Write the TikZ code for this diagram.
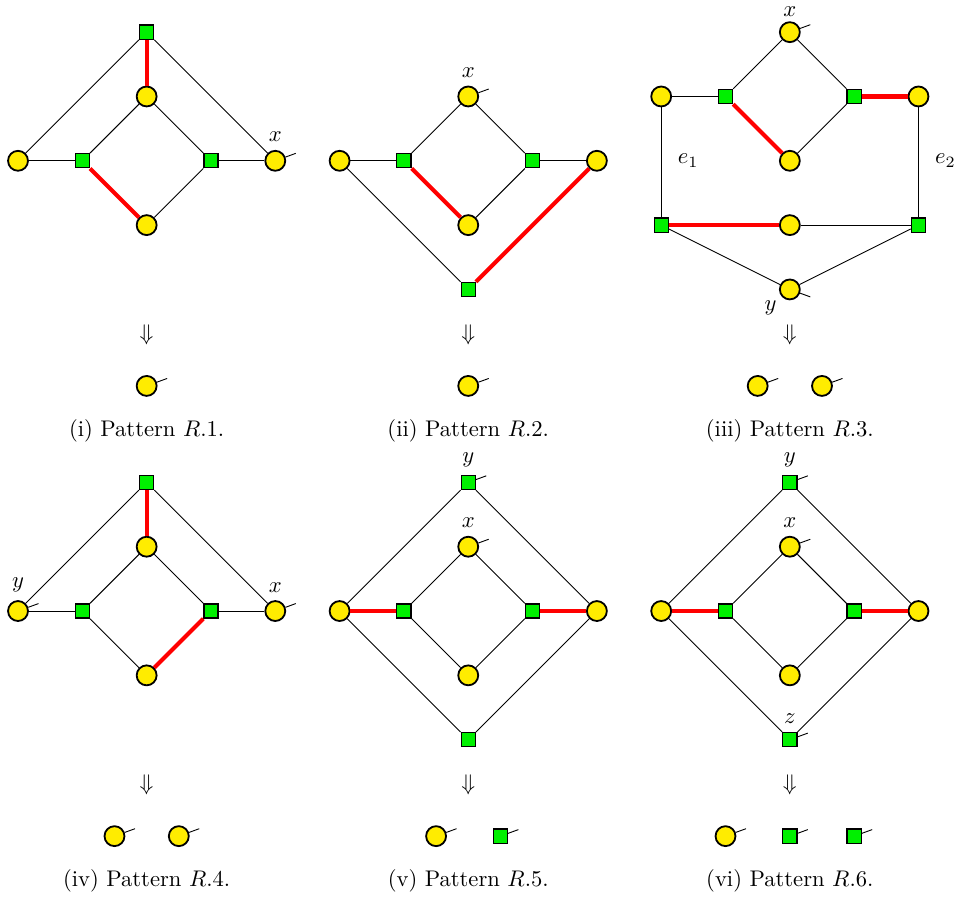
\documentclass[tikz,border=0pt]{standalone}
\definecolor{varyellow}{RGB}{255,236,0}
\definecolor{facgreen}{RGB}{0,240,0}
\tikzset{
    var/.style={circle, draw, line width=0.8pt, fill=varyellow, minimum size=0.31cm, inner sep=0pt},
    fac/.style={rectangle, draw, line width=0.55pt, fill=facgreen, minimum size=0.22cm, inner sep=0pt},
    sel/.style={red, line width=1.8pt},
    edge/.style={line width=0.4pt}
}
\begin{document}
\begin{tikzpicture}
        \useasboundingbox (-0.28, 0.5) rectangle (14.63, -13.47);

        % (i)
        \node[var] (l1) at (0, -2) {};
        \node[fac] (fl1) at (1, -2) {};
        \node[var] (t1) at (2, -1) {};
        \node[fac] (ft1) at (2, 0) {};
        \node[fac] (fr1) at (3, -2) {};
        \node[var, label=above:$x$] (x1) at (4, -2) {};
        \node[var] (b1) at (2, -3) {};
        \draw[edge] (l1) -- (fl1);
        \draw[edge] (l1) -- (ft1);
        \draw[sel] (ft1) -- (t1);
        \draw[edge] (ft1) -- (x1);
        \draw[edge] (t1) -- (fl1);
        \draw[edge] (t1) -- (fr1);
        \draw[sel] (fl1) -- (b1);
        \draw[edge] (fr1) -- (b1);
        \draw[edge] (fr1) -- (x1);
        \draw[edge] (x1.20) -- ++(20:0.17);
        \node (arr1) at (2, -4.7) {$\Downarrow$};
        \node[var] (o1) at (2, -5.5) {};
        \draw[edge] (o1.20) -- ++(20:0.17);
        \node (cap1) at (2, -6.2) {(i) Pattern $R$.1.};

        % (ii)
        \node[var] (l2) at (5, -2) {};
        \node[fac] (fl2) at (6, -2) {};
        \node[var, label=above:$x$] (x2) at (7, -1) {};
        \node[fac] (fr2) at (8, -2) {};
        \node[var] (r2) at (9, -2) {};
        \node[var] (b2) at (7, -3) {};
        \node[fac] (fb2) at (7, -4) {};
        \draw[edge] (l2) -- (fl2);
        \draw[edge] (l2) -- (fb2);
        \draw[edge] (fl2) -- (x2);
        \draw[sel] (fl2) -- (b2);
        \draw[edge] (x2) -- (fr2);
        \draw[edge] (fr2) -- (b2);
        \draw[edge] (fr2) -- (r2);
        \draw[sel] (r2) -- (fb2);
        \draw[edge] (x2.20) -- ++(20:0.17);
        \node (arr2) at (7, -4.7) {$\Downarrow$};
        \node[var] (o2) at (7, -5.5) {};
        \draw[edge] (o2.20) -- ++(20:0.17);
        \node (cap2) at (7, -6.2) {(ii) Pattern $R$.2.};

        % (iii)
        \node[var] (a3) at (10, -1) {};
        \node[fac] (fa3) at (11, -1) {};
        \node[var, label={[label distance=-1.5pt]above:$x$}] (x3) at (12, 0) {};
        \node[fac] (fb3) at (13, -1) {};
        \node[var] (c3) at (14, -1) {};
        \node[var] (d3) at (12, -2) {};
        \node[fac] (fe3) at (10, -3) {};
        \node[var] (m3) at (12, -3) {};
        \node[fac] (ff3) at (14, -3) {};
        \node[var, label={[label distance=-2pt]212:$y$}] (y3) at (12, -4) {};
        \draw[edge] (a3) -- (fa3);
        \draw[edge] (fa3) -- (x3);
        \draw[sel] (fa3) -- (d3);
        \draw[edge] (x3) -- (fb3);
        \draw[edge] (fb3) -- (d3);
        \draw[sel] (fb3) -- (c3);
        \draw[edge] (a3) -- (fe3);
        \draw[edge] (c3) -- (ff3);
        \draw[sel] (fe3) -- (m3);
        \draw[edge] (m3) -- (ff3);
        \draw[edge] (fe3) -- (y3);
        \draw[edge] (ff3) -- (y3);
        \draw[edge] (x3.20) -- ++(20:0.17);
        \draw[edge] (y3.-20) -- ++(-20:0.17);
        \node (e1) at (10.42, -2) {$e_1$};
        \node (e2) at (14.42, -2) {$e_2$};
        \node (arr3) at (12, -4.7) {$\Downarrow$};
        \node[var] (o3a) at (11.5, -5.5) {};
        \node[var] (o3b) at (12.5, -5.5) {};
        \draw[edge] (o3a.20) -- ++(20:0.17);
        \draw[edge] (o3b.20) -- ++(20:0.17);
        \node (cap3) at (12, -6.2) {(iii) Pattern $R$.3.};

        % (iv)
        \node[fac] (ft4) at (2, -7) {};
        \node[var] (t4) at (2, -8) {};
        \node[var, label=above:$y$] (y4) at (0, -9) {};
        \node[fac] (fl4) at (1, -9) {};
        \node[fac] (fr4) at (3, -9) {};
        \node[var, label=above:$x$] (x4) at (4, -9) {};
        \node[var] (b4) at (2, -10) {};
        \draw[sel] (ft4) -- (t4);
        \draw[edge] (ft4) -- (y4);
        \draw[edge] (ft4) -- (x4);
        \draw[edge] (y4) -- (fl4);
        \draw[edge] (fl4) -- (t4);
        \draw[edge] (fl4) -- (b4);
        \draw[edge] (t4) -- (fr4);
        \draw[sel] (fr4) -- (b4);
        \draw[edge] (fr4) -- (x4);
        \draw[edge] (y4.20) -- ++(20:0.17);
        \draw[edge] (x4.20) -- ++(20:0.17);
        \node (arr4) at (2, -11.7) {$\Downarrow$};
        \node[var] (o4a) at (1.5, -12.5) {};
        \node[var] (o4b) at (2.5, -12.5) {};
        \draw[edge] (o4a.20) -- ++(20:0.17);
        \draw[edge] (o4b.20) -- ++(20:0.17);
        \node (cap4) at (2, -13.2) {(iv) Pattern $R$.4.};

        % (v)
        \node[fac, label=above:$y$] (fy5) at (7, -7) {};
        \node[var, label=above:$x$] (x5) at (7, -8) {};
        \node[var] (l5) at (5, -9) {};
        \node[fac] (fl5) at (6, -9) {};
        \node[fac] (fr5) at (8, -9) {};
        \node[var] (r5) at (9, -9) {};
        \node[var] (b5) at (7, -10) {};
        \node[fac] (fb5) at (7, -11) {};
        \draw[edge] (fy5) -- (l5);
        \draw[edge] (fy5) -- (r5);
        \draw[sel] (l5) -- (fl5);
        \draw[edge] (fl5) -- (x5);
        \draw[edge] (fl5) -- (b5);
        \draw[edge] (x5) -- (fr5);
        \draw[edge] (fr5) -- (b5);
        \draw[sel] (fr5) -- (r5);
        \draw[edge] (l5) -- (fb5);
        \draw[edge] (r5) -- (fb5);
        \draw[edge] (fy5.20) -- ++(20:0.17);
        \draw[edge] (x5.20) -- ++(20:0.17);
        \node (arr5) at (7, -11.7) {$\Downarrow$};
        \node[var] (o5a) at (6.5, -12.5) {};
        \node[fac] (o5b) at (7.5, -12.5) {};
        \draw[edge] (o5a.20) -- ++(20:0.17);
        \draw[edge] (o5b.20) -- ++(20:0.17);
        \node (cap5) at (7, -13.2) {(v) Pattern $R$.5.};

        % (vi)
        \node[fac, label=above:$y$] (fy6) at (12, -7) {};
        \node[var, label=above:$x$] (x6) at (12, -8) {};
        \node[var] (l6) at (10, -9) {};
        \node[fac] (fl6) at (11, -9) {};
        \node[fac] (fr6) at (13, -9) {};
        \node[var] (r6) at (14, -9) {};
        \node[var] (b6) at (12, -10) {};
        \node[fac, label=above:$z$] (fz6) at (12, -11) {};
        \draw[edge] (fy6) -- (l6);
        \draw[edge] (fy6) -- (r6);
        \draw[sel] (l6) -- (fl6);
        \draw[edge] (fl6) -- (x6);
        \draw[edge] (fl6) -- (b6);
        \draw[edge] (x6) -- (fr6);
        \draw[edge] (fr6) -- (b6);
        \draw[sel] (fr6) -- (r6);
        \draw[edge] (l6) -- (fz6);
        \draw[edge] (r6) -- (fz6);
        \draw[edge] (fy6.20) -- ++(20:0.17);
        \draw[edge] (x6.20) -- ++(20:0.17);
        \draw[edge] (fz6.20) -- ++(20:0.17);
        \node (arr6) at (12, -11.7) {$\Downarrow$};
        \node[var] (o6a) at (11, -12.5) {};
        \node[fac] (o6b) at (12, -12.5) {};
        \node[fac] (o6c) at (13, -12.5) {};
        \draw[edge] (o6a.20) -- ++(20:0.17);
        \draw[edge] (o6b.20) -- ++(20:0.17);
        \draw[edge] (o6c.20) -- ++(20:0.17);
        \node (cap6) at (12, -13.2) {(vi) Pattern $R$.6.};

    \end{tikzpicture}
\end{document}
